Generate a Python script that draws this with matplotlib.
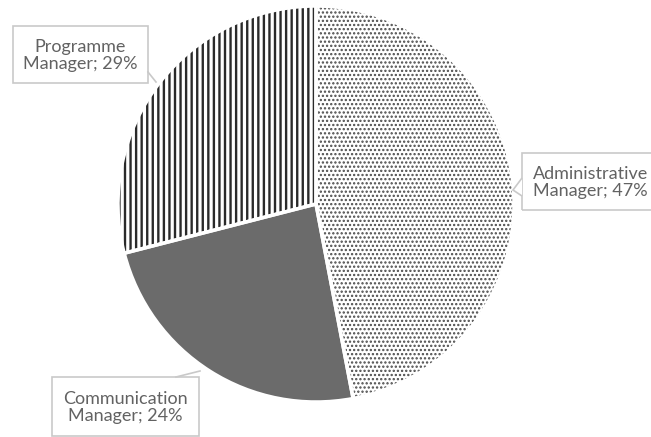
import matplotlib.pyplot as plt
from matplotlib.patches import Rectangle, Polygon

# donnees du camembert
categories = ["Administrative\nManager", "Communication\nManager", "Programme\nManager"]
parts = [47, 24, 29]

# styles des parts
couleurs_fond = ["white", "#6b6b6b", "white"]
couleurs_hachures = ["#4a4a4a", "#6b6b6b", "#2a2a2a"]
hachures = ["....", "", "|||"]
epaisseurs_hachures = [1.1, 1.0, 1.7]

plt.rcParams['font.family'] = ['Lato', 'DejaVu Sans']

W, H = 651, 437
fig = plt.figure(figsize=(W / 100, H / 100), dpi=100)
ax = fig.add_axes([0, 0, 1, 1])

def Y(py):
    # coordonnees en pixels depuis le haut
    return H - py

centre = (316, Y(204))
rayon = 198

wedges, _ = ax.pie(parts, startangle=90, counterclock=False, center=centre,
                   radius=rayon, colors=couleurs_fond)
for w, hc, h, lw in zip(wedges, couleurs_hachures, hachures, epaisseurs_hachures):
    w.set_edgecolor(hc)
    w.set_linewidth(0)
    w.set_hatch(h)
    if hasattr(w, "set_hatch_linewidth"):
        w.set_hatch_linewidth(lw)

# separation blanche entre les parts
contours, _ = ax.pie(parts, startangle=90, counterclock=False, center=centre,
                     radius=rayon,
                     wedgeprops=dict(fill=False, edgecolor="white", linewidth=2.5))

ax.set_xlim(0, W)
ax.set_ylim(0, H)
ax.set_aspect('equal')
ax.axis('off')

gris_cadre = "#c9c9c9"
gris_texte = "#626262"

# etiquettes: boite (x0, y0, x1, y1) en pixels
boites = [
    (522, 153, 690, 210),
    (52, 377, 199, 436),
    (13, 26, 148, 83),
]
for cat, p, (x0, y0, x1, y1) in zip(categories, parts, boites):
    ax.add_patch(Rectangle((x0, Y(y1)), x1 - x0, y1 - y0, fill=False,
                           edgecolor=gris_cadre, linewidth=1.2, clip_on=False))
    cx = (x0 + x1) / 2 if x1 < W else x0 + 11
    ha = 'center' if x1 < W else 'left'
    ax.text(cx, Y((y0 + y1) / 2 + 1), f"{cat}; {p}%", ha=ha, va='center',
            fontsize=13, color=gris_texte, linespacing=1.05)

# pointeurs
ax.add_patch(Polygon([(522, Y(178)), (513, Y(190)), (522, Y(196))], closed=False,
                     fill=True, facecolor="white", edgecolor=gris_cadre, linewidth=1.2))
ax.plot([148, 156], [Y(72), Y(82)], color=gris_cadre, linewidth=1.2)
ax.plot([176, 200], [Y(377), Y(371)], color=gris_cadre, linewidth=1.2)

fig.savefig("out.png", dpi=100)
